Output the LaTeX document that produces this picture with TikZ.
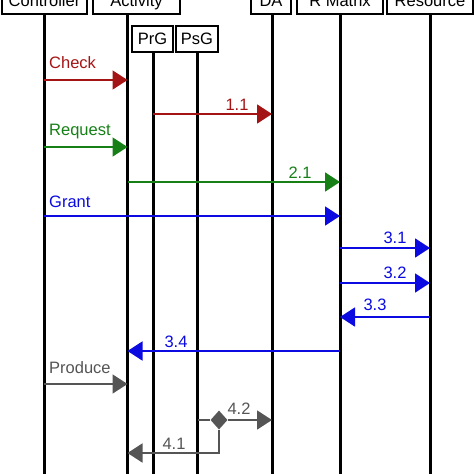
\documentclass[tikz,border=0pt]{standalone}
\usepackage{fontspec}
\setmainfont{Liberation Sans}
\usetikzlibrary{arrows.meta}
\usetikzlibrary{shapes.geometric}
\usetikzlibrary{math}

\definecolor{chkred}{RGB}{165,20,20}
\definecolor{reqgreen}{RGB}{22,128,22}
\definecolor{grtblue}{RGB}{10,10,225}
\definecolor{prdgray}{RGB}{85,85,85}

\tikzset{
  actor/.style={draw, line width=1.3pt, inner sep=0pt, minimum height=26pt,
    text height=11.8pt, text depth=0pt, font=\fontsize{16.5}{19}\selectfont},
  life/.style={line width=3pt},
  msg/.style={line width=1.8pt, -{Triangle[length=15pt,width=19pt]}},
  lbl/.style={inner sep=0pt, font=\fontsize{16.5}{19}\selectfont},
}

\begin{document}
\begin{tikzpicture}[x=1pt,y=-1pt]

  \tikzmath{
    \bottom = 474; % end of the lifelines
    \dashy  = 453; % height of the return branch 4.1
  }

  \useasboundingbox (0,0) rectangle (474,474);

  % Participants
  \node[actor, minimum width=85pt] (ctl) at (44.5,1)  {Controller};
  \node[actor, minimum width=87pt] (act) at (136.5,1) {Activity};
  \node[actor, minimum width=41pt] (prg) at (152.5,39) {PrG};
  \node[actor, minimum width=42pt] (psg) at (197,39)  {PsG};
  \node[actor, minimum width=40pt] (da)  at (271,1)   {DA};
  \node[actor, minimum width=86pt] (rm)  at (340,1)   {R Matrix};
  \node[actor, minimum width=86pt] (res) at (430,1)   {Resource};

  % top of each lifeline
  \coordinate (ctlL) at (44,14);
  \coordinate (actL) at (127.5,14);
  \coordinate (prgL) at (153,52);
  \coordinate (psgL) at (197.5,52);
  \coordinate (daL)  at (272,14);
  \coordinate (rmL)  at (340,14);
  \coordinate (resL) at (430,14);

  % Lifelines
  \foreach \l in {ctlL,actL,prgL,psgL,daL,rmL,resL}
    \draw[life] (\l) -- (\l |- 0,\bottom);

  % Check
  \draw[msg, chkred] (ctlL |- 0,80) -- (actL |- 0,80);
  \node[lbl, chkred, anchor=base west] (check) at (49,68) {Check};
  \draw[msg, chkred] (prgL |- 0,114) -- (daL |- 0,114);
  \node[lbl, chkred, anchor=base] (m11) at (237,110) {1.1};

  % Request
  \draw[msg, reqgreen] (ctlL |- 0,147) -- (actL |- 0,147);
  \node[lbl, reqgreen, anchor=base west] (request) at (49,135) {Request};
  \draw[msg, reqgreen] (actL |- 0,182) -- (rmL |- 0,182);
  \node[lbl, reqgreen, anchor=base] (m21) at (300,178) {2.1};

  % Grant
  \draw[msg, grtblue] (ctlL |- 0,216) -- (rmL |- 0,216);
  \node[lbl, grtblue, anchor=base west] (grant) at (49,207) {Grant};
  \draw[msg, grtblue] (rmL |- 0,248) -- (resL |- 0,248);
  \node[lbl, grtblue, anchor=base] (m31) at (395,243) {3.1};
  \draw[msg, grtblue] (rmL |- 0,283) -- (resL |- 0,283);
  \node[lbl, grtblue, anchor=base] (m32) at (395,278) {3.2};
  \draw[msg, grtblue] (resL |- 0,317) -- (rmL |- 0,317);
  \node[lbl, grtblue, anchor=base] (m33) at (375,310) {3.3};
  \draw[msg, grtblue] (rmL |- 0,351) -- (actL |- 0,351);
  \node[lbl, grtblue, anchor=base] (m34) at (176,347) {3.4};

  % Produce
  \draw[msg, prdgray] (ctlL |- 0,384) -- (actL |- 0,384);
  \node[lbl, prdgray, anchor=base west] (produce) at (49,373) {Produce};

  % fork after PsG
  \node[diamond, fill=prdgray, inner sep=0pt, minimum width=17pt,
    minimum height=19pt] (split) at (219,420) {};
  \draw[prdgray, line width=1.8pt] (psgL |- split) -- (split);
  \draw[msg, prdgray] (split) -- (daL |- split);
  \node[lbl, prdgray, anchor=base] (m42) at (239,414) {4.2};
  \draw[msg, prdgray] (split) -- (split |- 0,\dashy) -- (actL |- 0,\dashy);
  \node[lbl, prdgray, anchor=base] (m41) at (174,449) {4.1};

\end{tikzpicture}
\end{document}
